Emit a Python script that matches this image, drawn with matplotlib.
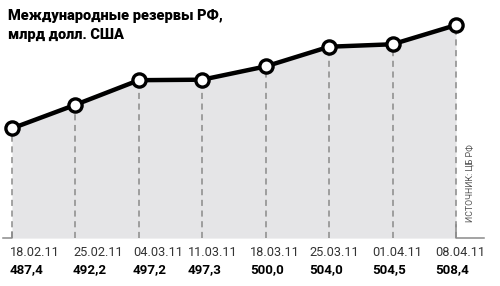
import matplotlib
matplotlib.use("Agg")
import matplotlib.pyplot as plt
import numpy as np

# данные: международные резервы РФ, млрд долл. США
dates = ["18.02.11", "25.02.11", "04.03.11", "11.03.11",
         "18.03.11", "25.03.11", "01.04.11", "08.04.11"]
values = [487.4, 492.2, 497.2, 497.3, 500.0, 504.0, 504.5, 508.4]
value_labels = ["487,4", "492,2", "497,2", "497,3", "500,0", "504,0", "504,5", "508,4"]

title = "Международные резервы РФ,\nмлрд долл. США"
source = "ИСТОЧНИК: ЦБ РФ"

# левый край подписей (пиксели)
label_left = [10, 73, 133, 188, 250, 309, 372, 435]

plt.rcParams['font.family'] = ['Roboto', 'DejaVu Sans']

fig = plt.figure(figsize=(5, 2.86), dpi=100)
ax = fig.add_axes([0, 0, 1, 1])
ax.set_xlim(-0.189, 7.694)
ax.set_ylim(455.36, 513.5)
ax.axis("off")

x = np.arange(len(values))
base = 465.1

ax.fill_between(x, values, base, color="#e5e5e7", lw=0, zorder=1)
ax.vlines(x, base, values, colors="#8a8a8a", lw=1.1,
          linestyles=(0, (4, 3)), zorder=2)
# уголки у основания
ax.plot([-0.14, 0, 0], [base, base, base + 1.2], color="#8a8a8a", lw=1.1, zorder=2)
ax.plot([7, 7, 7.44], [base + 2.6, base, base], color="#8a8a8a", lw=1.1, zorder=2)

ax.plot(x, values, color="black", lw=3.2, zorder=3,
        marker="o", ms=9.5, mfc="white", mec="black", mew=2.4)

for i in range(len(values)):
    fig.text(label_left[i] / 500, 1 - 252 / 286, dates[i], ha="left", va="center",
             fontsize=9.2, color="#333333")
    fig.text(label_left[i] / 500, 1 - 270 / 286, value_labels[i], ha="left", va="center",
             fontsize=9.6, fontweight="bold", color="black")

fig.text(8 / 500, 1 - 9 / 286, title, ha="left", va="top",
         fontsize=10.5, fontweight=900, linespacing=1.45)
fig.text(470 / 500, 1 - 183 / 286, source, rotation=90,
         ha="center", va="center", fontsize=6.3, color="#555555")

fig.savefig("out.png", dpi=100)
